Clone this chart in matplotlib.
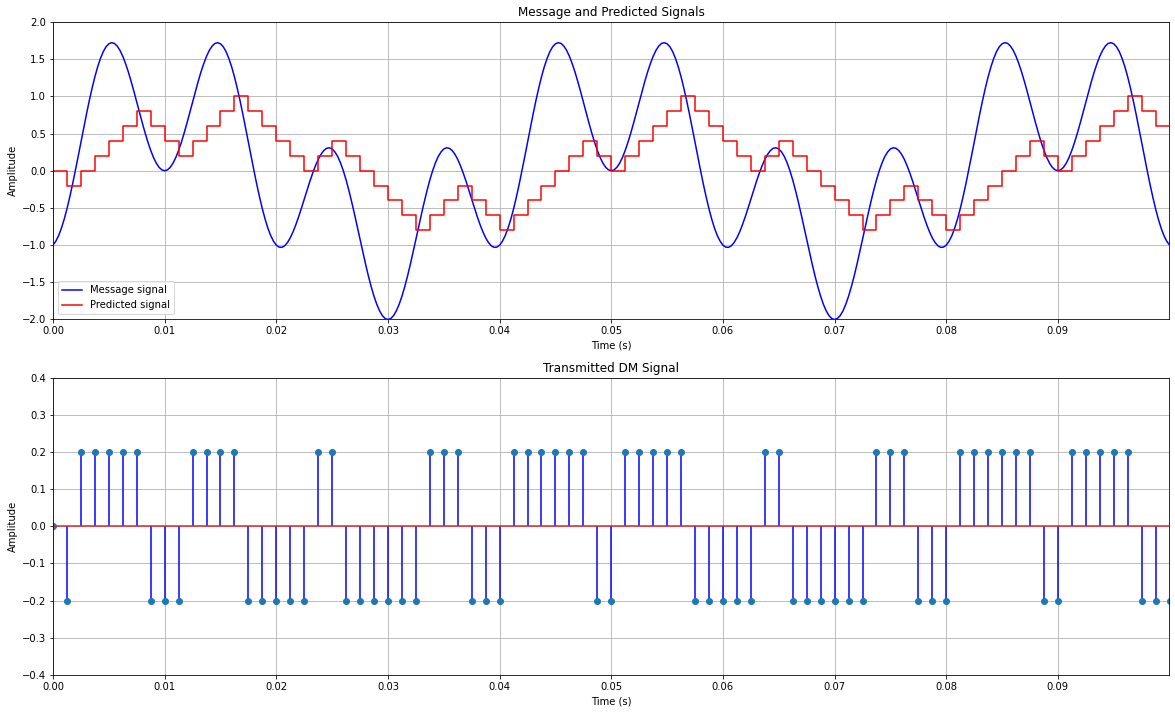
import numpy as np
import matplotlib
matplotlib.use("Agg")
import matplotlib.pyplot as plt

msg_dt = 0.00025
message = [
    -1.000, -0.948, -0.873, -0.774, -0.653, -0.512, -0.354, -0.183, 0.000, 0.190,
    0.383, 0.575, 0.763, 0.943, 1.110, 1.263, 1.397, 1.510, 1.601, 1.667,
    1.707, 1.722, 1.712, 1.676, 1.618, 1.539, 1.440, 1.327, 1.200, 1.065,
    0.924, 0.782, 0.642, 0.509, 0.385, 0.274, 0.179, 0.102, 0.046, 0.012,
    0.000, 0.012, 0.046, 0.102, 0.179, 0.274, 0.385, 0.509, 0.642, 0.782,
    0.924, 1.065, 1.200, 1.327, 1.440, 1.539, 1.618, 1.676, 1.712, 1.722,
    1.707, 1.667, 1.601, 1.510, 1.397, 1.263, 1.110, 0.943, 0.763, 0.575,
    0.383, 0.190, 0.000, -0.183, -0.354, -0.512, -0.653, -0.774, -0.873, -0.948,
    -1.000, -1.027, -1.030, -1.009, -0.965, -0.902, -0.821, -0.725, -0.618, -0.503,
    -0.383, -0.262, -0.145, -0.035, 0.065, 0.152, 0.221, 0.272, 0.302, 0.309,
    0.293, 0.253, 0.191, 0.106, 0.000, -0.124, -0.265, -0.419, -0.582, -0.752,
    -0.924, -1.095, -1.260, -1.417, -1.560, -1.688, -1.797, -1.884, -1.948, -1.987,
    -2.000, -1.987, -1.948, -1.884, -1.797, -1.688, -1.560, -1.417, -1.260, -1.095,
    -0.924, -0.752, -0.582, -0.419, -0.265, -0.124, 0.000, 0.106, 0.191, 0.253,
    0.293, 0.309, 0.302, 0.272, 0.221, 0.152, 0.065, -0.035, -0.145, -0.262,
    -0.383, -0.503, -0.618, -0.725, -0.821, -0.902, -0.965, -1.009, -1.030, -1.027,
    -1.000, -0.948, -0.873, -0.774, -0.653, -0.512, -0.354, -0.183, 0.000, 0.190,
    0.383, 0.575, 0.763, 0.943, 1.110, 1.263, 1.397, 1.510, 1.601, 1.667,
    1.707, 1.722, 1.712, 1.676, 1.618, 1.539, 1.440, 1.327, 1.200, 1.065,
    0.924, 0.782, 0.642, 0.509, 0.385, 0.274, 0.179, 0.102, 0.046, 0.012,
    0.000, 0.012, 0.046, 0.102, 0.179, 0.274, 0.385, 0.509, 0.642, 0.782,
    0.924, 1.065, 1.200, 1.327, 1.440, 1.539, 1.618, 1.676, 1.712, 1.722,
    1.707, 1.667, 1.601, 1.510, 1.397, 1.263, 1.110, 0.943, 0.763, 0.575,
    0.383, 0.190, 0.000, -0.183, -0.354, -0.512, -0.653, -0.774, -0.873, -0.948,
    -1.000, -1.027, -1.030, -1.009, -0.965, -0.902, -0.821, -0.725, -0.618, -0.503,
    -0.383, -0.262, -0.145, -0.035, 0.065, 0.152, 0.221, 0.272, 0.302, 0.309,
    0.293, 0.253, 0.191, 0.106, 0.000, -0.124, -0.265, -0.419, -0.582, -0.752,
    -0.924, -1.095, -1.260, -1.417, -1.560, -1.688, -1.797, -1.884, -1.948, -1.987,
    -2.000, -1.987, -1.948, -1.884, -1.797, -1.688, -1.560, -1.417, -1.260, -1.095,
    -0.924, -0.752, -0.582, -0.419, -0.265, -0.124, 0.000, 0.106, 0.191, 0.253,
    0.293, 0.309, 0.302, 0.272, 0.221, 0.152, 0.065, -0.035, -0.145, -0.262,
    -0.383, -0.503, -0.618, -0.725, -0.821, -0.902, -0.965, -1.009, -1.030, -1.027,
    -1.000, -0.948, -0.873, -0.774, -0.653, -0.512, -0.354, -0.183, 0.000, 0.190,
    0.383, 0.575, 0.763, 0.943, 1.110, 1.263, 1.397, 1.510, 1.601, 1.667,
    1.707, 1.722, 1.712, 1.676, 1.618, 1.539, 1.440, 1.327, 1.200, 1.065,
    0.924, 0.782, 0.642, 0.509, 0.385, 0.274, 0.179, 0.102, 0.046, 0.012,
    0.000, 0.012, 0.046, 0.102, 0.179, 0.274, 0.385, 0.509, 0.642, 0.782,
    0.924, 1.065, 1.200, 1.327, 1.440, 1.539, 1.618, 1.676, 1.712, 1.722,
    1.707, 1.667, 1.601, 1.510, 1.397, 1.263, 1.110, 0.943, 0.763, 0.575,
    0.383, 0.190, 0.000, -0.183, -0.354, -0.512, -0.653, -0.774, -0.873, -0.948,
    -1.000,
]

# Delta modulation samples every 1.25 ms
dm_dt = 0.00125
dm_signal = [
    0.0, -0.2, 0.2, 0.2, 0.2, 0.2, 0.2, -0.2, -0.2, -0.2,
    0.2, 0.2, 0.2, 0.2, -0.2, -0.2, -0.2, -0.2, -0.2, 0.2,
    0.2, -0.2, -0.2, -0.2, -0.2, -0.2, -0.2, 0.2, 0.2, 0.2,
    -0.2, -0.2, -0.2, 0.2, 0.2, 0.2, 0.2, 0.2, 0.2, -0.2,
    -0.2, 0.2, 0.2, 0.2, 0.2, 0.2, -0.2, -0.2, -0.2, -0.2,
    -0.2, 0.2, 0.2, -0.2, -0.2, -0.2, -0.2, -0.2, -0.2, 0.2,
    0.2, 0.2, -0.2, -0.2, -0.2, 0.2, 0.2, 0.2, 0.2, 0.2,
    0.2, -0.2, -0.2, 0.2, 0.2, 0.2, 0.2, 0.2, -0.2, -0.2,
    -0.2,
]
predicted = [
    0.0, -0.2, 0.0, 0.2, 0.4, 0.6, 0.8, 0.6, 0.4, 0.2,
    0.4, 0.6, 0.8, 1.0, 0.8, 0.6, 0.4, 0.2, 0.0, 0.2,
    0.4, 0.2, 0.0, -0.2, -0.4, -0.6, -0.8, -0.6, -0.4, -0.2,
    -0.4, -0.6, -0.8, -0.6, -0.4, -0.2, 0.0, 0.2, 0.4, 0.2,
    0.0, 0.2, 0.4, 0.6, 0.8, 1.0, 0.8, 0.6, 0.4, 0.2,
    0.0, 0.2, 0.4, 0.2, 0.0, -0.2, -0.4, -0.6, -0.8, -0.6,
    -0.4, -0.2, -0.4, -0.6, -0.8, -0.6, -0.4, -0.2, 0.0, 0.2,
    0.4, 0.2, 0.0, 0.2, 0.4, 0.6, 0.8, 1.0, 0.8, 0.6,
    0.4,
]

x_ticks = [0.00, 0.01, 0.02, 0.03, 0.04, 0.05, 0.06, 0.07, 0.08, 0.09]
x_ticklabels = ["0.00", "0.01", "0.02", "0.03", "0.04", "0.05", "0.06", "0.07", "0.08", "0.09"]

t_msg = np.arange(len(message)) * msg_dt
t_dm = np.arange(len(dm_signal)) * dm_dt
xmax = 0.09995

fig, (ax1, ax2) = plt.subplots(2, 1, figsize=(1175 / 72, 713 / 72), dpi=72)
fig.subplots_adjust(left=53 / 1175, right=1169 / 1175, top=1 - 22 / 713,
                    bottom=1 - 675 / 713, hspace=0.195)

ax1.plot(t_msg, message, color="b", label="Message signal")
ax1.step(t_dm, predicted, where="post", color="r", label="Predicted signal")
ax1.set_xlim(0, xmax)
ax1.set_ylim(-2, 2)
ax1.set_xticks(x_ticks)
ax1.set_xticklabels(x_ticklabels)
ax1.set_title("Message and Predicted Signals")
ax1.set_xlabel("Time (s)")
ax1.set_ylabel("Amplitude")
ax1.grid(True)
ax1.legend(loc="lower left")

ax2.stem(t_dm, dm_signal, linefmt="b-", markerfmt="C0o", basefmt="C3-")
ax2.set_xlim(0, xmax)
ax2.set_ylim(-0.4, 0.4)
ax2.set_xticks(x_ticks)
ax2.set_xticklabels(x_ticklabels)
ax2.set_title("Transmitted DM Signal")
ax2.set_xlabel("Time (s)")
ax2.set_ylabel("Amplitude")
ax2.grid(True)

fig.savefig("out.png", dpi=72)
